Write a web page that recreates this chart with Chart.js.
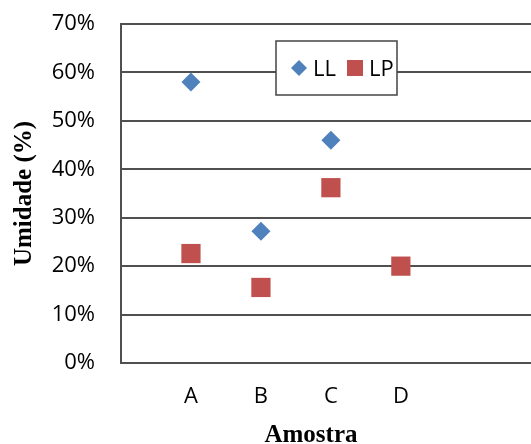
<!DOCTYPE html>
<html>
<head>
<meta charset="utf-8">
<script src="https://cdn.jsdelivr.net/npm/chart.js@4/dist/chart.umd.min.js"></script>
<style>
  html, body { margin: 0; padding: 0; background: #fff; overflow: hidden; }
  #wrap { position: relative; width: 531px; height: 444px; }
</style>
</head>
<body>
<div id="wrap"><canvas id="c"></canvas></div>
<script>
// Moisture limits per sample
const categories = ['A', 'B', 'C', 'D'];
const llValues = [58.0, 27.2, 46.0, null];
const lpValues = [22.6, 15.6, 36.2, 20.0];
const seriesNames = ['LL', 'LP'];
const yTickValues = [0, 10, 20, 30, 40, 50, 60, 70];
const xTitle = 'Amostra';
const yTitle = 'Umidade (%)';

const BLUE = '#4F81BD';
const RED = '#C0504D';
const GRID = '#505050';
const TICK_FONT = { family: '"Open Sans", sans-serif', size: 22 };
const TITLE_FONT = { family: '"Liberation Serif", "Times New Roman", serif', size: 25, weight: 'bold' };

function toPoints(values) {
  return values.map((v, i) => (v === null ? null : { x: i + 1, y: v })).filter(p => p);
}

// keep the plot area fixed: labels may overhang it
function noScalePadding(s) {
  s.paddingTop = 0; s.paddingBottom = 0; s.paddingLeft = 0; s.paddingRight = 0;
}

// Boxed legend inside the plot plus the horizontal axis title
const overlay = {
  id: 'overlay',
  afterDraw(chart) {
    const { ctx, chartArea } = chart;
    ctx.save();

    // x axis title
    ctx.font = `bold ${TITLE_FONT.size}px ${TITLE_FONT.family}`;
    ctx.fillStyle = '#000';
    ctx.textAlign = 'center';
    ctx.textBaseline = 'alphabetic';
    ctx.fillText(xTitle, chartArea.left + 190, 442);

    // legend box
    const bx = 276, by = 41, bw = 121, bh = 54;
    ctx.fillStyle = '#fff';
    ctx.fillRect(bx, by, bw, bh);
    ctx.strokeStyle = '#444';
    ctx.lineWidth = 1.5;
    ctx.strokeRect(bx, by, bw, bh);

    const items = [
      { ds: chart.data.datasets[0], mx: 299, tx: 313, r: 8 },
      { ds: chart.data.datasets[1], mx: 355, tx: 369, r: 11.3 }
    ];
    ctx.font = `${TICK_FONT.size}px ${TICK_FONT.family}`;
    ctx.textAlign = 'left';
    items.forEach(it => {
      ctx.fillStyle = it.ds.backgroundColor;
      Chart.helpers.drawPoint(ctx, { pointStyle: it.ds.pointStyle, radius: it.r, borderWidth: 0, rotation: 0 }, it.mx, 68);
      ctx.fillStyle = '#000';
      ctx.fillText(it.ds.label, it.tx, 76);
    });
    ctx.restore();
  }
};

new Chart(document.getElementById('c'), {
  type: 'scatter',
  data: {
    datasets: [
      {
        label: seriesNames[0],
        data: toPoints(llValues),
        pointStyle: 'rectRot',
        pointRadius: 9.5,
        pointHoverRadius: 9.5,
        backgroundColor: BLUE,
        borderColor: BLUE,
        pointBorderWidth: 0
      },
      {
        label: seriesNames[1],
        data: toPoints(lpValues),
        pointStyle: 'rect',
        pointRadius: 13.6,
        pointHoverRadius: 13.6,
        backgroundColor: RED,
        borderColor: RED,
        pointBorderWidth: 0
      }
    ]
  },
  options: {
    responsive: true,
    maintainAspectRatio: false,
    animation: false,
    devicePixelRatio: 1,
    layout: { autoPadding: false, padding: { top: 24, left: 0, right: 0, bottom: 0 } },
    plugins: { legend: { display: false }, tooltip: { enabled: false } },
    scales: {
      x: {
        type: 'linear',
        min: 0,
        max: 5.86,
        afterBuildTicks: s => { s.ticks = categories.map((c, i) => ({ value: i + 1 })); },
        afterFit: s => { s.height = 81; noScalePadding(s); },
        ticks: {
          callback: v => categories[v - 1],
          font: TICK_FONT,
          color: '#000',
          padding: 13,
          maxRotation: 0,
          autoSkip: false
        },
        grid: { display: false },
        border: { display: false }
      },
      y: {
        min: 0,
        max: 70,
        afterBuildTicks: s => { s.ticks = yTickValues.map(v => ({ value: v })); },
        afterFit: s => { s.width = 121; noScalePadding(s); },
        ticks: {
          callback: v => v + '%',
          font: TICK_FONT,
          color: '#000',
          padding: 26
        },
        grid: { color: GRID, lineWidth: 2, drawTicks: false },
        border: { display: true, color: GRID, width: 2 },
        title: {
          display: true,
          text: yTitle,
          font: TITLE_FONT,
          color: '#000',
          padding: { top: 10, bottom: 0 }
        }
      }
    }
  },
  plugins: [overlay]
});
</script>
</body>
</html>
